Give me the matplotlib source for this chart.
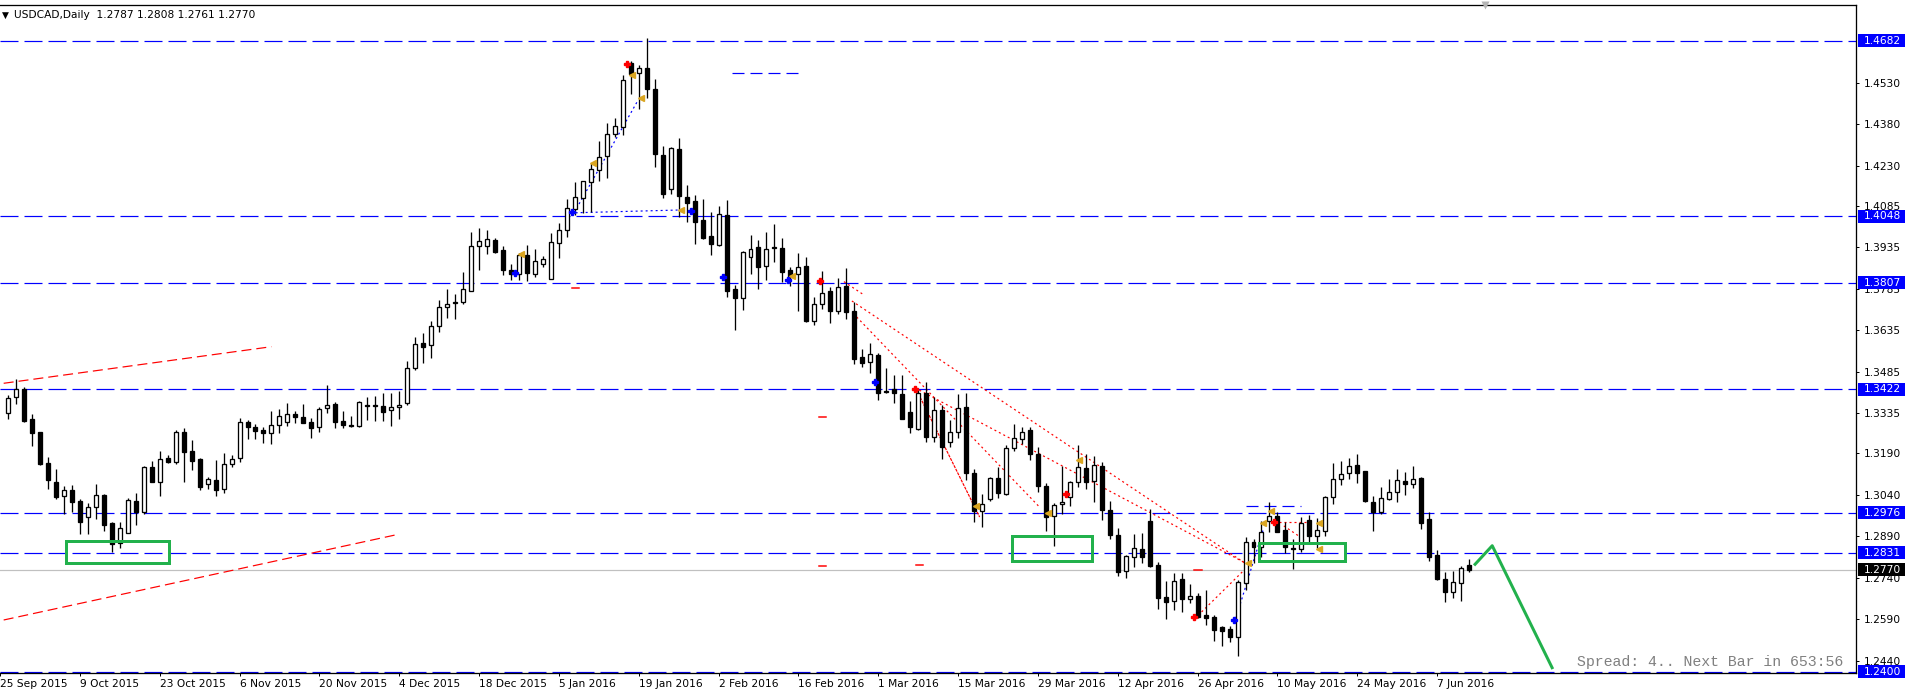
import numpy as np
import matplotlib
matplotlib.use('Agg')
import matplotlib.pyplot as plt
from matplotlib import transforms
from matplotlib.patches import Rectangle

plt.rcParams['font.family'] = 'DejaVu Sans'
plt.rcParams['lines.scale_dashes'] = False

# daily candles, 28 Sep 2015 .. 13 Jun 2016
opens = [1.3335, 1.3395, 1.3422, 1.3313, 1.3266, 1.3154, 1.3085, 1.3035, 1.3057, 1.3017,
         1.2961, 1.2998, 1.3040, 1.2938, 1.2865, 1.2904, 1.3017, 1.2979, 1.3141, 1.3088,
         1.3172, 1.3160, 1.3266, 1.3199, 1.3170, 1.3078, 1.3093, 1.3060, 1.3151, 1.3172,
         1.3302, 1.3284, 1.3275, 1.3263, 1.3292, 1.3302, 1.3331, 1.3320, 1.3302, 1.3284,
         1.3353, 1.3369, 1.3307, 1.3292, 1.3290, 1.3364, 1.3360, 1.3361, 1.3346, 1.3357,
         1.3371, 1.3498, 1.3588, 1.3582, 1.3650, 1.3720, 1.3735, 1.3736, 1.3778, 1.3939,
         1.3939, 1.3961, 1.3925, 1.3852, 1.3837, 1.3907, 1.3840, 1.3876, 1.3819, 1.3952,
         1.3996, 1.4075, 1.4112, 1.4170, 1.4213, 1.4264, 1.4343, 1.4369, 1.4600, 1.4564,
         1.4582, 1.4506, 1.4269, 1.4145, 1.4289, 1.4118, 1.4103, 1.4034, 1.3976, 1.3945,
         1.4052, 1.3784, 1.3753, 1.3901, 1.3935, 1.3869, 1.3937, 1.3931, 1.3853, 1.3837,
         1.3869, 1.3670, 1.3729, 1.3777, 1.3706, 1.3795, 1.3705, 1.3537, 1.3522, 1.3546,
         1.3416, 1.3423, 1.3405, 1.3340, 1.3278, 1.3407, 1.3251, 1.3347, 1.3230, 1.3266,
         1.3357, 1.3118, 1.2983, 1.3024, 1.3100, 1.3042, 1.3208, 1.3241, 1.3275, 1.3187,
         1.3072, 1.2965, 1.3006, 1.3031, 1.3086, 1.3136, 1.3092, 1.3146, 1.2986, 1.2895,
         1.2766, 1.2814, 1.2843, 1.2946, 1.2787, 1.2670, 1.2657, 1.2735, 1.2663, 1.2674,
         1.2606, 1.2600, 1.2564, 1.2555, 1.2528, 1.2720, 1.2869, 1.2850, 1.2946, 1.2964,
         1.2913, 1.2847, 1.2843, 1.2949, 1.2893, 1.2909, 1.3031, 1.3096, 1.3118, 1.3148,
         1.3126, 1.3013, 1.2977, 1.3024, 1.3049, 1.3090, 1.3078, 1.3102, 1.2953, 1.2823,
         1.2736, 1.2690, 1.2720, 1.2787]
highs = [1.3401, 1.3458, 1.3431, 1.3332, 1.3269, 1.3176, 1.3134, 1.3072, 1.3076, 1.3025,
         1.3010, 1.3079, 1.3042, 1.2943, 1.2942, 1.3029, 1.3046, 1.3143, 1.3164, 1.3199,
         1.3184, 1.3275, 1.3281, 1.3238, 1.3172, 1.3106, 1.3166, 1.3190, 1.3184, 1.3317,
         1.3311, 1.3296, 1.3284, 1.3345, 1.3349, 1.3371, 1.3345, 1.3369, 1.3317, 1.3359,
         1.3437, 1.3377, 1.3343, 1.3324, 1.3379, 1.3395, 1.3398, 1.3407, 1.3407, 1.3416,
         1.3524, 1.3610, 1.3625, 1.3670, 1.3745, 1.3783, 1.3765, 1.3847, 1.3989, 1.4004,
         1.3996, 1.3968, 1.3940, 1.3875, 1.3916, 1.3943, 1.3929, 1.3904, 1.3986, 1.4022,
         1.4110, 1.4172, 1.4175, 1.4239, 1.4319, 1.4383, 1.4401, 1.4558, 1.4609, 1.4594,
         1.4691, 1.4542, 1.4301, 1.4296, 1.4329, 1.4160, 1.4124, 1.4110, 1.4062, 1.4084,
         1.4106, 1.3799, 1.3922, 1.3980, 1.3962, 1.3991, 1.4019, 1.3968, 1.3863, 1.3913,
         1.3899, 1.3754, 1.3850, 1.3793, 1.3823, 1.3859, 1.3736, 1.3566, 1.3588, 1.3552,
         1.3498, 1.3474, 1.3474, 1.3380, 1.3423, 1.3447, 1.3395, 1.3365, 1.3311, 1.3405,
         1.3407, 1.3134, 1.3042, 1.3106, 1.3142, 1.3220, 1.3296, 1.3287, 1.3284, 1.3214,
         1.3082, 1.3010, 1.3146, 1.3090, 1.3221, 1.3187, 1.3181, 1.3158, 1.3018, 1.2919,
         1.2823, 1.2899, 1.2902, 1.2988, 1.2796, 1.2729, 1.2757, 1.2757, 1.2718, 1.2684,
         1.2696, 1.2605, 1.2566, 1.2566, 1.2732, 1.2889, 1.2880, 1.2946, 1.3016, 1.2979,
         1.2941, 1.2881, 1.2959, 1.2967, 1.2955, 1.3036, 1.3157, 1.3163, 1.3172, 1.3188,
         1.3128, 1.3036, 1.3068, 1.3096, 1.3133, 1.3122, 1.3144, 1.3106, 1.2979, 1.2841,
         1.2762, 1.2766, 1.2783, 1.2808]
lows = [1.3314, 1.3369, 1.3305, 1.3217, 1.3148, 1.3061, 1.3024, 1.2970, 1.2977, 1.2899,
        1.2899, 1.2953, 1.2910, 1.2832, 1.2849, 1.2901, 1.2931, 1.2970, 1.3086, 1.3037,
        1.3156, 1.3153, 1.3088, 1.3130, 1.3058, 1.3060, 1.3037, 1.3046, 1.3140, 1.3158,
        1.3242, 1.3242, 1.3229, 1.3225, 1.3265, 1.3290, 1.3299, 1.3299, 1.3247, 1.3267,
        1.3335, 1.3283, 1.3281, 1.3284, 1.3287, 1.3312, 1.3308, 1.3308, 1.3290, 1.3316,
        1.3365, 1.3490, 1.3516, 1.3534, 1.3630, 1.3678, 1.3675, 1.3729, 1.3778, 1.3853,
        1.3912, 1.3916, 1.3836, 1.3817, 1.3817, 1.3813, 1.3828, 1.3865, 1.3819, 1.3898,
        1.3974, 1.4052, 1.4058, 1.4064, 1.4176, 1.4187, 1.4335, 1.4341, 1.4488, 1.4434,
        1.4476, 1.4227, 1.4115, 1.4127, 1.4046, 1.4028, 1.3947, 1.3965, 1.3907, 1.3941,
        1.3757, 1.3636, 1.3709, 1.3839, 1.3784, 1.3817, 1.3883, 1.3811, 1.3795, 1.3706,
        1.3666, 1.3654, 1.3712, 1.3663, 1.3694, 1.3676, 1.3513, 1.3504, 1.3482, 1.3383,
        1.3410, 1.3371, 1.3313, 1.3263, 1.3275, 1.3230, 1.3230, 1.3169, 1.3212, 1.3245,
        1.3094, 1.2943, 1.2923, 1.3019, 1.3028, 1.3039, 1.3199, 1.3224, 1.3166, 1.3049,
        1.2911, 1.2857, 1.2971, 1.3001, 1.3067, 1.3061, 1.3016, 1.2949, 1.2881, 1.2748,
        1.2741, 1.2781, 1.2795, 1.2778, 1.2628, 1.2590, 1.2624, 1.2618, 1.2651, 1.2594,
        1.2570, 1.2513, 1.2494, 1.2510, 1.2458, 1.2696, 1.2793, 1.2817, 1.2905, 1.2905,
        1.2829, 1.2771, 1.2832, 1.2868, 1.2847, 1.2893, 1.3007, 1.3076, 1.3098, 1.3084,
        1.3013, 1.2911, 1.2971, 1.3022, 1.3016, 1.3040, 1.3064, 1.2916, 1.2802, 1.2733,
        1.2654, 1.2669, 1.2658, 1.2761]
closes = [1.3389, 1.3422, 1.3307, 1.3265, 1.3152, 1.3094, 1.3034, 1.3057, 1.3016, 1.2943,
          1.2995, 1.3038, 1.2932, 1.2863, 1.2919, 1.3020, 1.2977, 1.3141, 1.3088, 1.3169,
          1.3158, 1.3266, 1.3196, 1.3164, 1.3070, 1.3096, 1.3059, 1.3151, 1.3170, 1.3302,
          1.3287, 1.3272, 1.3263, 1.3292, 1.3324, 1.3332, 1.3320, 1.3301, 1.3283, 1.3349,
          1.3364, 1.3305, 1.3292, 1.3290, 1.3375, 1.3360, 1.3364, 1.3341, 1.3357, 1.3364,
          1.3498, 1.3586, 1.3576, 1.3650, 1.3720, 1.3730, 1.3737, 1.3783, 1.3940, 1.3958,
          1.3964, 1.3919, 1.3854, 1.3840, 1.3907, 1.3843, 1.3884, 1.3892, 1.3953, 1.3996,
          1.4076, 1.4116, 1.4175, 1.4217, 1.4260, 1.4343, 1.4372, 1.4539, 1.4560, 1.4582,
          1.4506, 1.4271, 1.4127, 1.4293, 1.4122, 1.4094, 1.4028, 1.3970, 1.3947, 1.4054,
          1.3778, 1.3753, 1.3917, 1.3928, 1.3865, 1.3928, 1.3934, 1.3847, 1.3827, 1.3863,
          1.3670, 1.3729, 1.3769, 1.3706, 1.3793, 1.3702, 1.3530, 1.3516, 1.3548, 1.3407,
          1.3412, 1.3407, 1.3313, 1.3284, 1.3407, 1.3248, 1.3347, 1.3214, 1.3266, 1.3353,
          1.3118, 1.2983, 1.3006, 1.3100, 1.3046, 1.3208, 1.3245, 1.3269, 1.3187, 1.3073,
          1.2961, 1.3004, 1.3013, 1.3086, 1.3140, 1.3088, 1.3148, 1.2986, 1.2896, 1.2763,
          1.2819, 1.2847, 1.2817, 1.2784, 1.2669, 1.2654, 1.2730, 1.2665, 1.2676, 1.2600,
          1.2596, 1.2552, 1.2549, 1.2528, 1.2724, 1.2869, 1.2853, 1.2907, 1.2964, 1.2907,
          1.2850, 1.2843, 1.2937, 1.2893, 1.2913, 1.3034, 1.3098, 1.3114, 1.3145, 1.3120,
          1.3019, 1.2977, 1.3028, 1.3049, 1.3094, 1.3078, 1.3097, 1.2937, 1.2817, 1.2736,
          1.2690, 1.2724, 1.2775, 1.2770]

date_labels = ['25 Sep 2015', '9 Oct 2015', '23 Oct 2015', '6 Nov 2015', '20 Nov 2015',
               '4 Dec 2015', '18 Dec 2015', '5 Jan 2016', '19 Jan 2016', '2 Feb 2016',
               '16 Feb 2016', '1 Mar 2016', '15 Mar 2016', '29 Mar 2016', '12 Apr 2016',
               '26 Apr 2016', '10 May 2016', '24 May 2016', '7 Jun 2016']
date_bars = list(range(0, 181, 10))

price_ticks = [1.4530, 1.4380, 1.4230, 1.4085, 1.3935, 1.3785, 1.3635, 1.3485, 1.3335,
               1.3190, 1.3040, 1.2890, 1.2740, 1.2590, 1.2440]
levels = [1.4682, 1.4048, 1.3807, 1.3422, 1.2976, 1.2831, 1.2400]
bid = 1.2770

# drawn objects, in (bar, price)
red_dash_lines = [[(0.46, 1.34435), (34.0, 1.35758)],
                  [(0.46, 1.25878), (49.9, 1.28976)]]
red_dot_lines = [[(106.7, 1.3741), (155.9, 1.2794)],
                 [(107.3, 1.3683), (130.2, 1.2996)],
                 [(114.6, 1.3427), (155.9, 1.2795)],
                 [(105.7, 1.3811), (108.2, 1.3763)],
                 [(150.5, 1.2617), (156.1, 1.2776)],
                 [(159.6, 1.2941), (164.2, 1.2941)],
                 [(160.8, 1.2928), (163.4, 1.2877)]]
red_step_line = [(114.8, 1.3419), (122.7, 1.2960)]
blue_dot_lines = [[(71.9, 1.4060), (79.8, 1.4461)],
                  [(72.1, 1.4060), (85.25, 1.4070)],
                  [(154.6, 1.2576), (158.2, 1.2913)]]
green_boxes = [(8.3, 21.2, 1.2795, 1.28745),
               (126.7, 136.75, 1.2801, 1.28926),
               (157.7, 168.4, 1.2802, 1.28672)]
green_path_x = [184.75, 186.9, 194.4]
green_path_y = [1.27892, 1.28564, 1.24154]
blue_short = [(91.7, 99.96, 1.45652), (156.0, 162.9, 1.3000)]
red_short = [(71.6, 72.5, 1.37869), (102.6, 103.5, 1.33205), (102.6, 103.5, 1.2783),
             (114.7, 115.6, 1.27866), (149.6, 150.5, 1.27686)]
mark_orange_x = [79.2, 80.3, 74.3, 65.25, 85.25, 99.2, 122.25, 131.3, 135.2, 158.25, 159.2,
                 165.25, 165.25, 156.3]
mark_orange_y = [1.4558, 1.44737, 1.42388, 1.39098, 1.4070, 1.38314, 1.3001, 1.29757, 1.31662,
                 1.29374, 1.29819, 1.29374, 1.28445, 1.27928]
mark_blue_x = [71.7, 64.55, 86.6, 90.6, 98.7, 109.55, 154.55]
mark_blue_y = [1.40617, 1.38411, 1.40674, 1.38267, 1.38169, 1.34471, 1.25878]
mark_red_x = [78.59, 102.7, 114.6, 133.5, 149.6, 159.6]
mark_red_y = [1.45967, 1.38133, 1.34229, 1.30433, 1.25997, 1.2941]

W, H = 1906, 700
fig = plt.figure(figsize=(W / 100, H / 100), dpi=100)
ax = fig.add_axes([0, 27 / H, 1856 / W, 668 / H])
ax.set_xlim(0.4625, 232.4625)
ax.set_ylim(1.23962, 1.48110)

px = 0.72  # one pixel in points
blue = '#0000ff'
green = '#22b14c'

# horizontal levels
for p in levels:
    ax.axhline(p, color=blue, lw=px * 1.2, dashes=(18 * px, 6 * px), zorder=1)
ax.axhline(bid, color='#c0c0c0', lw=px * 1.2, zorder=1)

# candles
bars = np.arange(1, len(opens) + 1)
o = np.array(opens)
c = np.array(closes)
ax.vlines(bars, lows, highs, color='black', lw=px * 1.3, zorder=3)
up = c >= o
ax.bar(bars[up], (c - o)[up], bottom=o[up], width=0.5, color='white', edgecolor='black',
       linewidth=px * 1.3, zorder=4)
ax.bar(bars[~up], (o - c)[~up], bottom=c[~up], width=0.5, color='black', edgecolor='black',
       linewidth=px * 1.3, zorder=4)

# trend lines and objects
for (x0, y0), (x1, y1) in red_dash_lines:
    ax.plot([x0, x1], [y0, y1], color='red', lw=px * 1.2, dashes=(10 * px, 5 * px), zorder=2)
for (x0, y0), (x1, y1) in red_dot_lines:
    ax.plot([x0, x1], [y0, y1], color='red', lw=px * 1.2, dashes=(2 * px, 3 * px), zorder=2)
ax.plot([red_step_line[0][0], red_step_line[1][0]], [red_step_line[0][1], red_step_line[1][1]],
        color='red', lw=px * 1.2, dashes=(3 * px, 1 * px), zorder=2)
for (x0, y0), (x1, y1) in blue_dot_lines:
    ax.plot([x0, x1], [y0, y1], color=blue, lw=px * 1.2, dashes=(2 * px, 3 * px), zorder=2)
for x0, x1, p in blue_short:
    ax.plot([x0, x1], [p, p], color=blue, lw=px * 1.2, dashes=(12 * px, 6 * px), zorder=2)
for x0, x1, p in red_short:
    ax.plot([x0, x1], [p, p], color='red', lw=px * 1.5, zorder=2)
for x0, x1, p0, p1 in green_boxes:
    ax.add_patch(Rectangle((x0, p0), x1 - x0, p1 - p0, fill=False, ec=green, lw=px * 3, zorder=5))
ax.plot(green_path_x, green_path_y, color=green, lw=px * 3, zorder=5, clip_on=False)
ax.plot(mark_orange_x, mark_orange_y, ls='none', marker='<', ms=5, color='#daa520', zorder=6)
ax.plot(mark_blue_x, mark_blue_y, ls='none', marker='P', ms=5, color=blue, zorder=6)
ax.plot(mark_red_x, mark_red_y, ls='none', marker='P', ms=5, color='red', zorder=6)

# axes look
ax.spines['left'].set_visible(False)
for side in ['top', 'bottom', 'right']:
    ax.spines[side].set_linewidth(px * 1.3)
ax.yaxis.tick_right()
ax.set_yticks(price_ticks)
ax.set_yticklabels(['%.4f' % t for t in price_ticks])
ax.tick_params(axis='y', length=3 * px, width=px, pad=5 * px, labelsize=7.7, colors='black')
ax.set_xticks(date_bars)
ax.set_xticklabels(date_labels, ha='left')
ax.tick_params(axis='x', length=3 * px, width=px, pad=3 * px, labelsize=7.7)

# price labels on the right
tr = transforms.blended_transform_factory(fig.transFigure, ax.transData)
box_h = 13 * 0.0003615
for p in levels + [bid]:
    fc = 'black' if p == bid else blue
    ax.add_patch(Rectangle((1858 / W, p - box_h / 2), 48 / W, box_h, transform=tr,
                           fc=fc, ec='none', clip_on=False, zorder=7))
    ax.text(1864 / W, p, '%.4f' % p, transform=tr, color='white', fontsize=7.7,
            va='center', ha='left', zorder=8, clip_on=False)

# header and status text
fig.text(2 / W, 1 - 15 / H, '\u25bc', fontsize=6.5, va='center', ha='left')
fig.text(14 / W, 1 - 15 / H, 'USDCAD,Daily  1.2787 1.2808 1.2761 1.2770', fontsize=7.7,
         va='center', ha='left')
fig.text(1577 / W, 1 - 662 / H, 'Spread: 4.. Next Bar in 653:56', fontsize=10.7,
         family='Liberation Mono', color='#808080', va='center', ha='left')
ax.plot([1485 / W], [1 - 5 / H], marker='v', ms=6, color='#b4b4b4', mec='none',
        transform=fig.transFigure, clip_on=False, zorder=9)

fig.savefig('out.png', dpi=100)
